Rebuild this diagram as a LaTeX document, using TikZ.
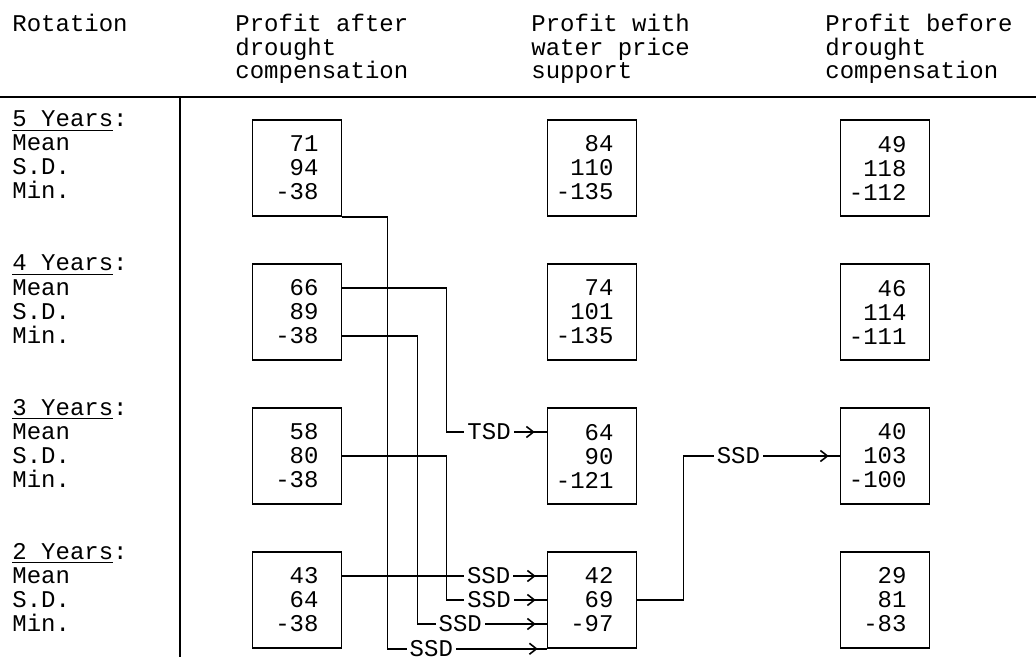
\documentclass[tikz,border=0pt]{standalone}
\usepackage{fontspec}
\setmonofont{Liberation Mono}
\usetikzlibrary{arrows.meta,decorations.markings}
\newcommand\rnum[1]{\makebox[21.5pt][r]{#1}}
\newcommand\statcol[3]{\rnum{#1}\\\rnum{#2}\\\rnum{#3}}
\tikzset{
	txt/.style={font=\ttfamily\fontsize{12}{12}\selectfont, inner sep=0pt},
	lbl/.style={txt, anchor=west, text height=0.7em, text depth=0pt},
	stat/.style={txt, draw, line width=0.8pt, minimum width=44.5pt, minimum height=48pt, align=center},
	conn/.style={line width=0.8pt},
	chev/.style={postaction={decorate}, decoration={markings, mark=at position -#1 with {\arrow{Straight Barb[length=3.5pt,width=5.5pt]}}}},
	test/.style={txt, fill=white, inner xsep=1.5pt, inner ysep=0pt},
}

\begin{document}
\begin{tikzpicture}[x=0.5pt, y=-0.5pt]
		%%%%% START %%%%%
		\path[use as bounding box, fill=white] (0,0) rectangle (1036,657);
		
		% header
		\node[lbl] (rot) at (12,25) {Rotation};
		\foreach \t [count=\i from 0] in {Profit after, drought, compensation}
			\node[lbl] (ha\i) at (235,25+23.5*\i) {\t};
		\foreach \t [count=\i from 0] in {Profit with, water price, support}
			\node[lbl] (hw\i) at (531,25+23.5*\i) {\t};
		\foreach \t [count=\i from 0] in {Profit before, drought, compensation}
			\node[lbl] (hb\i) at (825,25+23.5*\i) {\t};
		
		\draw[line width=0.8pt] (0,97) -- (1036,97);
		\draw[line width=0.8pt] (180,97) -- (180,657);
		
		% rotation labels
		\foreach \yr/\cy in {5/168, 4/312, 3/456, 2/600} {
			\node[lbl] (yr\yr) at (12,\cy-48) {\underline{\yr\ Years}:};
			\node[lbl] (mean\yr) at (12,\cy-24) {Mean};
			\node[lbl] (sd\yr) at (12,\cy) {S.D.};
			\node[lbl] (min\yr) at (12,\cy+24) {Min.};
		}
		
		% after drought compensation
		\node[stat] (a5) at (297,168) {\statcol{71}{94}{-38}};
		\node[stat] (a4) at (297,312) {\statcol{66}{89}{-38}};
		\node[stat] (a3) at (297,456) {\statcol{58}{80}{-38}};
		\node[stat] (a2) at (297,600) {\statcol{43}{64}{-38}};
		
		% water price support
		\node[stat] (w5) at (592,168) {\statcol{84}{110}{-135}};
		\node[stat] (w4) at (592,312) {\statcol{74}{101}{-135}};
		\node[stat] (w3) at (592,456) {\statcol{64}{90}{-121}};
		\node[stat] (w2) at (592,600) {\statcol{42}{69}{-97}};
		
		% before drought compensation
		\node[stat] (b5) at (885,168) {\statcol{49}{118}{-112}};
		\node[stat] (b4) at (885,312) {\statcol{46}{114}{-111}};
		\node[stat] (b3) at (885,456) {\statcol{40}{103}{-100}};
		\node[stat] (b2) at (885,600) {\statcol{29}{81}{-83}};
		
		% dominance links
		\draw[conn, chev=4.5pt] (a5.south east) -- ++(45,0) |- node[test, pos=0.638] {SSD} (w2.south west);
		\draw[conn, chev=6pt] ([yshift=12pt]a4.east) -- ++(104,0) |- node[test, pos=0.713] {TSD} ([yshift=12pt]w3.west);
		\draw[conn, chev=5.5pt] ([yshift=-12pt]a4.east) -- ++(75,0) |- node[test, pos=0.666] {SSD} ([yshift=-12pt]w2.west);
		\draw[conn, chev=5.5pt] (a3.east) -- ++(104,0) |- node[test, pos=0.713] {SSD} (w2.west);
		\draw[conn, chev=5.5pt] ([yshift=12pt]a2.east) -- node[test, pos=0.716] {SSD} ([yshift=12pt]w2.west);
		\draw[conn, chev=5.5pt] (w2.east) -- ++(46,0) |- node[test, pos=0.676] {SSD} (b3.west);
		
		%%%%% END %%%%%
\end{tikzpicture}
\end{document}
